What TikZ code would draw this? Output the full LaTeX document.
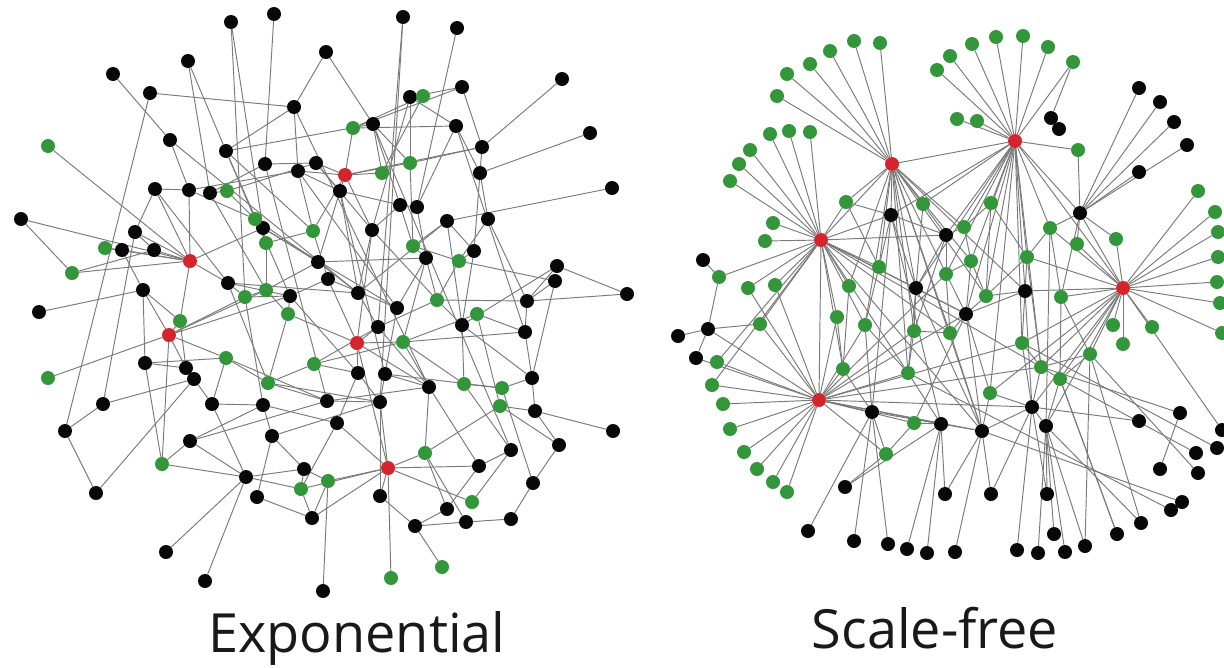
\documentclass[tikz,border=0pt]{standalone}
\usepackage{fontspec}
\setmainfont{Open Sans}
\pgfdeclarelayer{bg}
\pgfsetlayers{bg,main}
\definecolor{netgreen}{RGB}{52,150,58}
\definecolor{netred}{RGB}{212,36,44}
\definecolor{netblack}{RGB}{8,8,8}
\tikzset{
  dotb/.style={circle, fill=netblack, inner sep=0pt, minimum size=14pt},
  dotg/.style={circle, fill=netgreen, inner sep=0pt, minimum size=14pt},
  dotr/.style={circle, fill=netred, inner sep=0pt, minimum size=14pt},
  link/.style={draw=black!52, line width=0.95pt},
  caption/.style={font=\fontsize{54}{60}\selectfont, anchor=base, text=black!90},
}
\begin{document}
\begin{tikzpicture}[x=1pt, y=-1pt]
\useasboundingbox (0,0) rectangle (1224,667);
\begin{pgfonlayer}{bg}
\fill[white] (0,0) rectangle (1224,667);
\end{pgfonlayer}

% ---------- exponential network ----------
\foreach \px/\py/\c [count=\i] in {
231/22/b,274/14/b,326/52/b,188/61/b,113/74/b,150/93/b,294/107/b,170/140/b,226/151/b,265/164/b,
316/163/b,298/171/b,155/189/b,189/190/b,210/193/b,403/17/b,457/28/b,462/87/b,562/79/b,410/97/b,
456/126/b,373/124/b,590/133/b,482/147/b,480/173/b,340/191/b,612/188/b,400/205/b,417/207/b,21/219/b,
135/232/b,122/250/b,154/250/b,143/290/b,39/312/b,228/283/b,263/228/b,318/262/b,328/279/b,290/296/b,
145/363/b,186/368/b,194/379/b,447/221/b,488/219/b,372/230/b,426/258/b,474/251/b,557/266/b,555/281/b,
627/294/b,358/293/b,527/301/b,397/308/b,378/327/b,462/325/b,525/332/b,358/373/b,385/374/b,532/378/b,
429/387/b,327/401/b,380/402/b,103/404/b,65/431/b,96/493/b,190/441/b,212/404/b,263/405/b,272/436/b,
304/469/b,246/477/b,257/497/b,312/518/b,166/552/b,205/581/b,323/591/b,535/411/b,613/431/b,337/423/b,
559/445/b,511/450/b,479/466/b,533/483/b,380/496/b,447/509/b,415/526/b,466/522/b,511/519/b,
48/146/g,227/191/g,423/96/g,353/128/g,410/163/g,382/173/g,105/248/g,72/273/g,255/219/g,266/243/g,
313/231/g,245/297/g,266/290/g,288/314/g,180/321/g,226/358/g,268/383/g,314/364/g,48/378/g,413/246/g,
459/261/g,437/300/g,477/314/g,403/342/g,464/384/g,502/388/g,162/464/g,328/481/g,301/489/g,500/406/g,
425/453/g,472/502/g,442/567/g,391/578/g,
345/175/r,190/261/r,169/335/r,357/343/r,388/468/r}
  \node[dot\c] (L\i) at (\px,\py) {};

\begin{pgfonlayer}{bg}
\foreach \a/\b in {
1/37,2/10,3/7,3/22,4/9,4/15,5/8,6/7,6/65,7/9,7/12,8/14,
9/22,9/100,10/15,10/11,11/124,11/91,11/46,12/14,12/26,12/54,
13/14,13/31,13/36,14/125,15/102,16/55,17/29,18/24,18/93,18/20,
19/24,20/92,20/94,20/46,21/29,21/93,21/25,22/95,22/28,23/25,
24/25,24/94,24/124,25/45,25/48,26/124,26/38,26/52,27/44,
28/29,28/109,28/46,29/47,30/97,30/125,31/64,31/33,32/96,32/34,32/125,
33/125,33/97,34/35,34/126,34/41,36/125,36/101,36/40,37/99,37/38,37/125,
38/52,38/102,38/98,39/100,39/40,39/54,39/127,40/126,40/103,41/105,41/42,
42/126,42/43,43/64,43/66,43/68,44/109,44/52,45/110,45/53,46/111,
47/109,47/54,47/113,48/110,48/56,49/51,49/56,50/60,50/110,51/53,53/111,
55/111,55/107,56/114,57/112,57/60,57/113,58/127,58/107,58/80,59/54,59/63,59/115,
60/115,61/113,61/120,61/62,62/106,62/63,62/67,63/128,63/70,64/65,65/66,
67/72,68/72,68/105,69/70,69/101,70/73,71/72,71/117,72/75,72/76,72/116,
73/74,74/117,74/128,77/117,78/79,78/81,78/119,80/128,80/118,81/84,82/83,82/121,82/114,
83/128,83/86,84/89,85/128,85/87,86/87,86/120,87/88,87/122,88/89,
90/125,91/98,92/93,92/95,93/124,94/124,94/109,95/124,96/125,97/125,
98/99,99/102,100/124,101/126,101/102,102/103,103/127,103/106,104/125,104/126,
105/106,105/126,106/107,108/126,110/111,112/113,112/119,113/127,114/115,116/126,
117/128,118/128,118/72,119/120,120/128,121/128,123/128,46/127,127/128,
7/61,10/62,22/82,26/59,8/52,21/57,1/101,16/63,44/56,9/40,
14/98,15/91,9/98,12/100,11/26,26/28,22/94,20/21,36/52,37/54,38/47,40/58,
52/55,55/61,58/63,59/61,46/52,109/110,111/56,113/114,44/48,47/111,53/57,
56/60,127/61,127/55,124/46,124/12,126/102,105/62,106/63,107/113,101/40,
99/100,125/31,34/104,104/42,116/67,67/69,69/80,71/70,118/74,118/71,63/85,
61/83,120/88,119/81,115/84,60/78,50/53,49/53,13/125,36/106,41/116,68/69}
  \draw[link] (L\a) -- (L\b);
\end{pgfonlayer}

% ---------- scale-free network ----------
\foreach \px/\py/\c [count=\i] in {
892/164/r,1015/141/r,821/240/r,819/400/r,1123/288/r,
777/96/g,787/74/g,810/64/g,830/51/g,854/41/g,880/43/g,
730/181/g,739/164/g,750/150/g,770/134/g,789/131/g,810/132/g,
937/70/g,950/56/g,972/44/g,996/37/g,1023/36/g,1048/47/g,1073/62/g,
957/119/g,977/121/g,1078/150/g,
1051/118/b,1059/129/b,
1139/88/b,1160/102/b,1174/122/b,1187/145/b,1139/172/b,
1198/191/g,1215/212/g,1218/232/g,1218/257/g,1217/282/g,1220/303/g,1222/333/g,
1116/239/g,1077/244/g,1113/325/g,1152/327/g,1123/344/g,
773/223/g,765/241/g,719/277/g,748/288/g,775/285/g,760/324/g,
703/260/b,708/329/b,678/336/b,696/358/b,
717/362/g,712/385/g,723/404/g,730/429/g,744/452/g,757/469/g,773/482/g,787/492/g,
846/202/g,923/204/g,991/203/g,964/227/g,1050/228/g,1027/257/g,971/261/g,946/274/g,879/267/g,849/286/g,
986/296/g,1061/297/g,837/317/g,865/325/g,914/331/g,950/333/g,843/369/g,908/373/g,1022/343/g,1090/354/g,
1041/367/g,1060/379/g,990/393/g,914/423/g,886/454/g,
891/215/b,946/235/b,916/288/b,1025/291/b,966/314/b,872/412/b,941/424/b,982/431/b,1032/407/b,1046/426/b,1080/213/b,
808/531/b,854/541/b,888/544/b,907/549/b,927/553/b,955/552/b,1017/550/b,1038/553/b,1065/552/b,1085/546/b,
1117/534/b,1141/523/b,1171/510/b,1182/502/b,1160/469/b,1198/473/b,1196/453/b,1217/448/b,1222/430/b,1180/413/b,
1139/421/b,845/487/b,945/494/b,991/494/b,1047/494/b,1054/534/b}
  \node[dot\c] (R\i) at (\px,\py) {};

\begin{pgfonlayer}{bg}
\foreach \a/\b in {
1/6,1/7,1/8,1/9,1/10,1/11,
3/12,3/13,3/14,3/15,3/16,3/17,3/47,3/48,3/49,3/50,3/51,3/52,
2/18,2/19,2/20,2/21,2/22,2/23,2/24,2/25,2/26,2/27,
5/35,5/36,5/37,5/38,5/39,5/40,5/41,5/42,5/43,5/44,5/45,5/46,
4/57,4/58,4/59,4/60,4/61,4/62,4/63,4/64,
24/28,28/29,30/100,31/100,32/100,33/100,34/100,27/100,
53/49,54/49,54/55,54/56,54/52,54/4,
1/2,1/3,3/4,2/5,2/100,5/100,
1/65,1/66,1/90,1/73,1/78,1/92,1/68,1/71,1/94,1/82,1/97,1/74,
2/66,2/67,2/68,2/69,2/70,2/71,2/75,2/93,2/91,2/72,2/83,2/87,2/85,
3/74,3/77,3/81,3/65,3/73,3/90,3/91,3/80,3/85,3/92,
4/52,4/56,4/81,4/89,4/95,4/78,4/77,4/82,4/72,4/88,4/79,4/96,4/98,
5/76,5/84,5/93,5/69,5/86,5/98,5/83,5/70,
65/90,66/91,67/68,67/70,68/71,69/76,69/99,70/93,70/85,71/94,71/75,72/91,72/80,73/78,73/90,
74/81,75/93,75/94,76/100,76/86,78/95,79/91,79/92,79/82,80/94,80/97,81/95,82/92,82/96,
83/93,83/98,84/112,84/110,84/85,85/98,86/99,86/111,87/97,87/94,88/94,88/96,89/95,89/122,
90/92,90/96,90/95,91/68,92/97,93/98,94/97,95/101,95/102,95/103,96/104,96/105,96/122,96/123,
97/123,97/124,97/106,98/107,98/124,98/125,99/108,99/109,99/125,99/126,
113/82,114/97,115/120,116/84,117/86,118/83,119/5,120/85,121/98,112/99,110/99,111/86,
43/100,42/100,57/3,58/3,50/4,51/4,
1/93,1/75,1/79,1/80,3/94,3/82,3/78,3/97,4/97,4/94,4/83,4/85,2/94,2/92,2/90,
5/85,5/87,5/99,65/73,66/92,67/75,69/70,70/75,71/72,76/84,77/81,78/82,79/80,
83/85,85/86,86/84,87/98,88/89,90/91,91/92,92/94,93/94,95/96,96/97,97/98,98/99,100/69}
  \draw[link] (R\a) -- (R\b);
\end{pgfonlayer}

% ---------- captions ----------
\node[caption] (capexp) at (357,652) {Exponential};
\node[caption] (capsf) at (935,648) {Scale-free};
\end{tikzpicture}
\end{document}
